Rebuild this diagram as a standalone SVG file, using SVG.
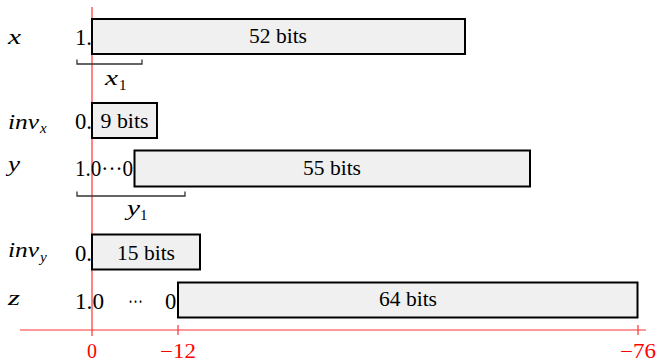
<svg xmlns="http://www.w3.org/2000/svg" width="660" height="362" viewBox="0 0 660 362">
<style>
text{font-family:"Liberation Serif","DejaVu Serif",serif;fill:#000}
.v{font-style:italic;font-size:22px}
.sub{font-style:italic;font-size:15px}
.subr{font-size:15px}
.n{font-size:22.5px}
.lbl{font-size:20px;text-anchor:middle}
.box{fill:#f0f0f0;stroke:#000;stroke-width:2}
.br{fill:none;stroke:#333;stroke-width:1.3}
.ax{stroke:#f33;stroke-width:1.2;fill:none}
.red{fill:#f00;font-size:20px;text-anchor:middle}
</style>
<g id="connectors">
<line class="ax" x1="92" y1="7" x2="92" y2="336"/>
<line class="ax" x1="20" y1="330" x2="646" y2="330"/>
<line class="ax" x1="178" y1="325" x2="178" y2="335"/>
<line class="ax" x1="638" y1="325" x2="638" y2="335"/>
</g>
<g id="axis-labels">
<text class="red" x="92" y="358">0</text>
<text class="red" x="178" y="358" textLength="36" lengthAdjust="spacingAndGlyphs">−12</text>
<text class="red" x="638" y="358" textLength="36" lengthAdjust="spacingAndGlyphs">−76</text>
</g>
<g id="row-x">
<text class="v" x="8" y="44" textLength="13" lengthAdjust="spacingAndGlyphs">x</text>
<text class="n" x="75" y="45" textLength="17" lengthAdjust="spacingAndGlyphs">1.</text>
<rect class="box" x="92" y="19" width="373" height="35"/>
<text class="lbl" x="278" y="43" textLength="58" lengthAdjust="spacingAndGlyphs">52 bits</text>
</g>
<g id="bracket-x1">
<path class="br" d="M77 59.5V64H142V59.5"/>
<text class="v" x="105" y="85" textLength="13" lengthAdjust="spacingAndGlyphs">x</text>
<text class="subr" x="119" y="90">1</text>
</g>
<g id="row-invx">
<text class="v" x="8" y="129" textLength="31" lengthAdjust="spacingAndGlyphs">inv</text>
<text class="sub" x="40" y="133">x</text>
<text class="n" x="75" y="129" textLength="17" lengthAdjust="spacingAndGlyphs">0.</text>
<rect class="box" x="92" y="103" width="65" height="35"/>
<text class="lbl" x="124.5" y="128" textLength="48" lengthAdjust="spacingAndGlyphs">9 bits</text>
</g>
<g id="row-y">
<text class="v" x="8" y="171" textLength="12" lengthAdjust="spacingAndGlyphs">y</text>
<text class="n" x="75" y="176" textLength="58" lengthAdjust="spacingAndGlyphs">1.0···0</text>
<rect class="box" x="134.5" y="150.5" width="395.5" height="36"/>
<text class="lbl" x="332" y="175" textLength="58" lengthAdjust="spacingAndGlyphs">55 bits</text>
</g>
<g id="bracket-y1">
<path class="br" d="M77 191.5V196H185V191.5"/>
<text class="v" x="127" y="215" textLength="13" lengthAdjust="spacingAndGlyphs">y</text>
<text class="subr" x="140" y="220">1</text>
</g>
<g id="row-invy">
<text class="v" x="8" y="257" textLength="31" lengthAdjust="spacingAndGlyphs">inv</text>
<text class="sub" x="40" y="262">y</text>
<text class="n" x="75" y="261" textLength="17" lengthAdjust="spacingAndGlyphs">0.</text>
<rect class="box" x="92" y="234.5" width="108" height="35"/>
<text class="lbl" x="146" y="260" textLength="58" lengthAdjust="spacingAndGlyphs">15 bits</text>
</g>
<g id="row-z">
<text class="v" x="8" y="305" textLength="12" lengthAdjust="spacingAndGlyphs">z</text>
<text class="n" x="75" y="309" textLength="29" lengthAdjust="spacingAndGlyphs">1.0</text>
<text class="n" x="128" y="309" textLength="15" lengthAdjust="spacingAndGlyphs">···</text>
<text class="n" x="165" y="309">0</text>
<rect class="box" x="178" y="282.5" width="459.5" height="35"/>
<text class="lbl" x="408" y="306" textLength="58" lengthAdjust="spacingAndGlyphs">64 bits</text>
</g>
</svg>
